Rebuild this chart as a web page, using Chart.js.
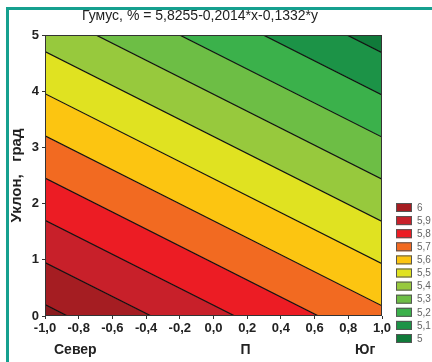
<!DOCTYPE html>
<html>
<head>
<meta charset="utf-8">
<script src="https://cdn.jsdelivr.net/npm/chart.js@4"></script>
<style>
  html, body { margin: 0; padding: 0; background: #fff; }
  #wrap { position: relative; width: 432px; height: 362px; }
  #frame {
    position: absolute; left: 6px; top: 7px; right: 0; bottom: 0;
    border-left: 3px solid #16a08f; border-top: 3px solid #16a08f;
  }
  canvas { position: absolute; left: 0; top: 0; }
</style>
</head>
<body>
<div id="wrap">
  <div id="frame"></div>
  <canvas id="chart" width="432" height="362"></canvas>
</div>
<script>
// Гумус, % = 5,8255-0,2014*x-0,1332*y
const titleText = "Гумус, % = 5,8255-0,2014*x-0,1332*y";
const coefs = [5.8255, -0.2014, -0.1332];
const levels = [5.0, 5.1, 5.2, 5.3, 5.4, 5.5, 5.6, 5.7, 5.8, 5.9, 6.0];
// band colours, from below 5 up to above 6
const bandColors = [
  "#107a3a", "#1c9347", "#3bb14b", "#6dbe45", "#97c93d", "#e0e221",
  "#fcc511", "#f26a21", "#ec1c24", "#c8202a", "#a51d22", "#8a1a1e"
];
const legendLabels = ["6", "5,9", "5,8", "5,7", "5,6", "5,5", "5,4", "5,3", "5,2", "5,1", "5"];
const legendColors = bandColors.slice(0, 11).reverse();
const xEnds = [-1, 1];
const dirLabels = ["Север", "П", "Юг"];
const dirPos = [-0.82, 0.19, 0.9];

const FONT = "'Liberation Sans', Arial, sans-serif";

// points of the contour line z = level
function contour(level) {
  return xEnds.map((x) => ({ x: x, y: (coefs[0] + coefs[1] * x - level) / -coefs[2] }));
}

const datasets = [];
datasets.push({ data: contour(4.0), borderWidth: 0, pointRadius: 0, fill: false });
levels.forEach((lv, i) => {
  datasets.push({
    data: contour(lv),
    borderColor: "#111",
    borderWidth: 1.2,
    pointRadius: 0,
    backgroundColor: bandColors[i],
    fill: "-1",
  });
});
datasets.push({
  data: contour(7.0), borderWidth: 0, pointRadius: 0,
  backgroundColor: bandColors[11], fill: "-1",
});

const extras = {
  id: "extras",
  afterDraw(chart) {
    const ctx = chart.ctx;
    const a = chart.chartArea;
    ctx.save();
    ctx.strokeStyle = "#333";
    ctx.lineWidth = 1;
    ctx.strokeRect(a.left + 0.5, a.top + 0.5, a.right - a.left - 1, a.bottom - a.top - 1);
    ctx.fillStyle = "#222";
    ctx.textAlign = "center";
    ctx.textBaseline = "middle";
    ctx.font = "14px " + FONT;
    ctx.fillText(titleText, 200, 16);
    ctx.font = "bold 14px " + FONT;
    dirLabels.forEach((t, i) => {
      ctx.fillText(t, chart.scales.x.getPixelForValue(dirPos[i]), 350);
    });
    // legend
    ctx.font = "10px " + FONT;
    ctx.textAlign = "left";
    legendLabels.forEach((t, i) => {
      const y = 203 + i * 13.1;
      ctx.fillStyle = legendColors[i];
      ctx.fillRect(396, y, 16, 9);
      ctx.strokeStyle = "#555";
      ctx.strokeRect(396.5, y + 0.5, 15, 8);
      ctx.fillStyle = "#666";
      ctx.fillText(t, 417, y + 5);
    });
    ctx.restore();
  },
};

new Chart(document.getElementById("chart"), {
  type: "line",
  data: { datasets: datasets },
  plugins: [extras],
  options: {
    responsive: false,
    animation: false,
    events: [],
    layout: { padding: { left: 0, right: 50, top: 35, bottom: 0 } },
    plugins: {
      legend: { display: false },
      tooltip: { enabled: false },
      filler: { drawTime: "beforeDatasetsDraw" },
    },
    scales: {
      x: {
        type: "linear",
        min: -1,
        max: 1,
        afterFit(scale) { scale.height = 46; },
        border: { display: false },
        grid: { drawOnChartArea: false, tickLength: 3, color: "#333" },
        ticks: {
          stepSize: 0.2,
          padding: 2,
          maxRotation: 0,
          color: "#222",
          font: { family: FONT, size: 13, weight: "bold" },
          callback: (v) => (Math.round(v * 10) / 10).toFixed(1).replace(".", ","),
        },
      },
      y: {
        type: "linear",
        min: 0,
        max: 5,
        afterFit(scale) { scale.width = 45; },
        border: { display: false },
        grid: { drawOnChartArea: false, tickLength: 3, color: "#333" },
        title: {
          display: true,
          text: "Уклон,   град",
          color: "#222",
          padding: { top: 8, bottom: 0 },
          font: { family: FONT, size: 15, weight: "bold" },
        },
        ticks: {
          stepSize: 1,
          padding: 3,
          color: "#222",
          font: { family: FONT, size: 13, weight: "bold" },
        },
      },
    },
  },
});
</script>
</body>
</html>
